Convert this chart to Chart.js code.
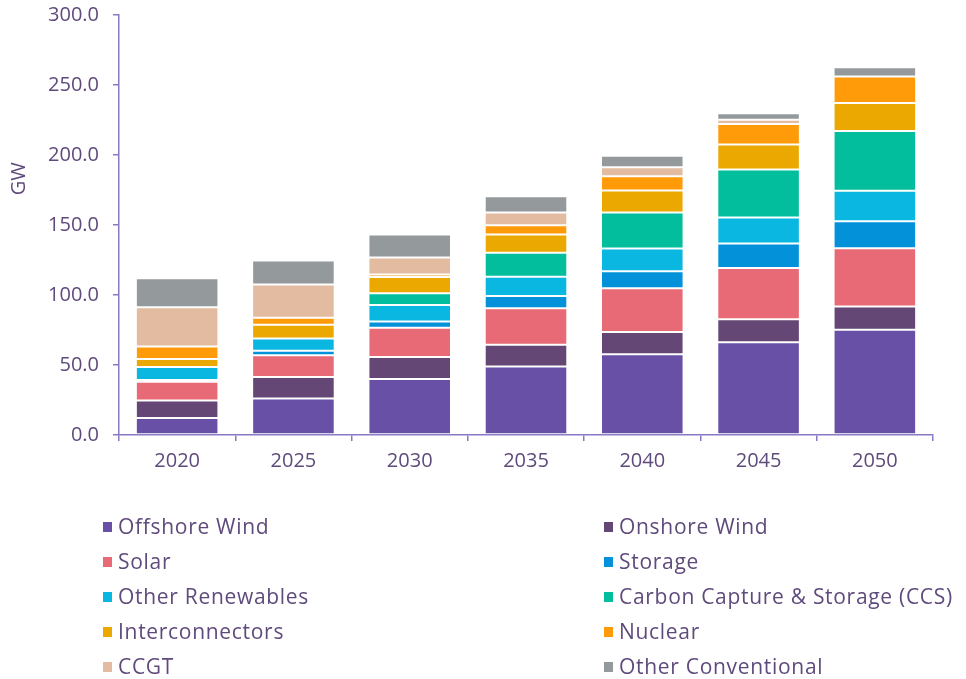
<!DOCTYPE html>
<html>
<head>
<meta charset="utf-8">
<script src="https://cdn.jsdelivr.net/npm/chart.js@4/dist/chart.umd.min.js"></script>
<style>
  html, body { margin: 0; padding: 0; background: #ffffff; }
</style>
</head>
<body>
<canvas id="chart" width="966" height="679"></canvas>
<script>
// Installed capacity by technology (GW)
const years = ['2020', '2025', '2030', '2035', '2040', '2045', '2050'];
const offshoreWind      = [12.1, 26.0, 40.0, 49.0, 57.6, 66.2, 75.2];
const onshoreWind       = [12.6, 15.4, 15.7, 15.5, 15.9, 16.4, 16.6];
const solar             = [13.4, 15.5, 20.9, 26.1, 31.4, 36.6, 41.6];
const storage           = [1.2, 3.3, 4.5, 8.6, 12.1, 17.6, 19.3];
const otherRenewables   = [9.2, 8.8, 11.7, 13.8, 16.2, 18.6, 21.7];
const ccs               = [0, 0, 8.5, 17.2, 25.7, 34.2, 42.8];
const interconnectors   = [5.7, 9.8, 11.5, 13.0, 15.7, 17.9, 20.0];
const nuclear           = [9.1, 5.0, 1.9, 6.7, 10.2, 14.7, 18.8];
const ccgt              = [28.0, 23.7, 12.1, 9.0, 6.5, 2.9, 0];
const otherConventional = [20.7, 17.2, 16.4, 11.7, 8.1, 4.7, 6.6];
const yTicks = [0, 50, 100, 150, 200, 250, 300];

const TEXT = '#5f4a7c';
const AXIS = '#8a78c4';
const FONT = '"Open Sans", sans-serif';

const series = [
  ['Offshore Wind', offshoreWind, '#6750a5'],
  ['Onshore Wind', onshoreWind, '#654775'],
  ['Solar', solar, '#e86a76'],
  ['Storage', storage, '#0392d9'],
  ['Other Renewables', otherRenewables, '#09b7e0'],
  ['Carbon Capture & Storage (CCS)', ccs, '#02be9c'],
  ['Interconnectors', interconnectors, '#eaa800'],
  ['Nuclear', nuclear, '#ff9a08'],
  ['CCGT', ccgt, '#e2bba0'],
  ['Other Conventional', otherConventional, '#949a9c'],
];

const datasets = series.map(([label, data, color]) => ({
  label,
  data,
  backgroundColor: color,
  borderColor: 'rgba(255,255,255,0.85)',
  borderWidth: 1,
  borderSkipped: false,
  categoryPercentage: 1,
  barPercentage: 0.71,
}));

// two-column legend drawn under the axis
const columnLegend = {
  id: 'columnLegend',
  afterDraw(chart) {
    const { ctx, chartArea } = chart;
    ctx.save();
    ctx.font = '21px ' + FONT;
    ctx.letterSpacing = '0.7px';
    ctx.textBaseline = 'middle';
    chart.data.datasets.forEach((ds, i) => {
      const x = i % 2 ? 604 : 103;
      const y = chartArea.bottom + 92 + Math.floor(i / 2) * 35;
      ctx.fillStyle = ds.backgroundColor;
      ctx.fillRect(x, y - 5, 9, 10);
      ctx.fillStyle = TEXT;
      ctx.fillText(ds.label, x + 15, y + 1);
    });
    ctx.restore();
  },
};

// rotated unit label, sitting a bit above the middle of the axis
const unitLabel = {
  id: 'unitLabel',
  afterDraw(chart) {
    const { ctx, chartArea } = chart;
    ctx.save();
    ctx.translate(19, chartArea.top + chartArea.height * 0.39);
    ctx.rotate(-Math.PI / 2);
    ctx.font = '20px ' + FONT;
    ctx.fillStyle = TEXT;
    ctx.textAlign = 'center';
    ctx.textBaseline = 'middle';
    ctx.fillText('GW', 0, 0);
    ctx.restore();
  },
};

new Chart(document.getElementById('chart'), {
  type: 'bar',
  data: { labels: years, datasets },
  plugins: [columnLegend, unitLabel],
  options: {
    responsive: false,
    animation: false,
    layout: { padding: { top: 15, right: 33, bottom: 204, left: 0 } },
    plugins: {
      legend: { display: false },
      tooltip: { enabled: false },
    },
    scales: {
      x: {
        stacked: true,
        grid: { drawOnChartArea: false, offset: true, color: AXIS, tickLength: 6, lineWidth: 1.5 },
        border: { color: AXIS, width: 1.5 },
        ticks: { color: TEXT, font: { family: FONT, size: 20 }, padding: 8 },
        afterFit(scale) { scale.height = 40; },
      },
      y: {
        stacked: true,
        min: 0,
        max: 300,
        afterBuildTicks(scale) { scale.ticks = yTicks.map(v => ({ value: v })); },
        grid: { drawOnChartArea: false, color: AXIS, tickLength: 6, lineWidth: 1.5 },
        border: { color: AXIS, width: 1.5 },
        ticks: {
          color: TEXT,
          font: { family: FONT, size: 20 },
          padding: 14,
          callback: v => v.toFixed(1),
        },
        afterFit(scale) {
          scale.width = 119;
          scale.paddingTop = 0;
          scale.paddingBottom = 0;
        },
      },
    },
  },
});
</script>
</body>
</html>
